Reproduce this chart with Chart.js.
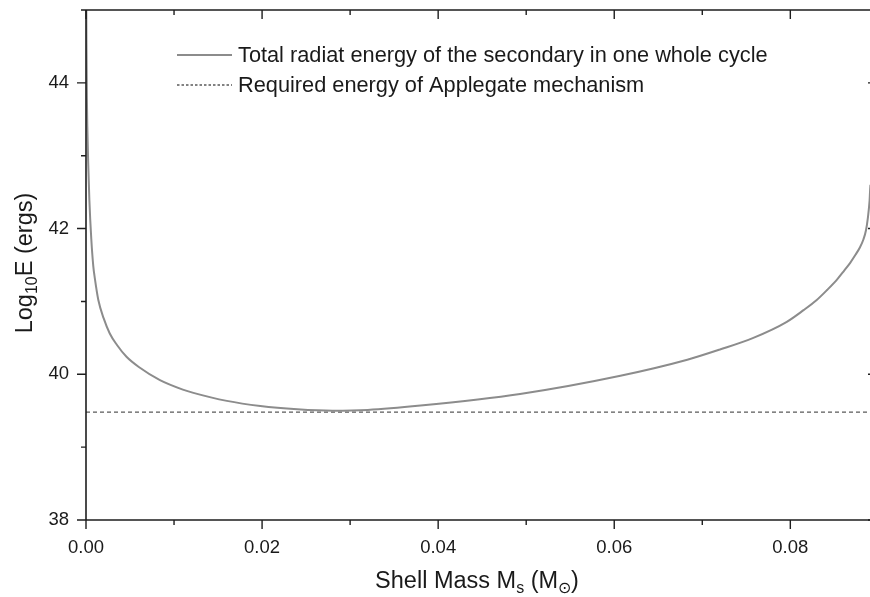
<!DOCTYPE html>
<html>
<head>
<meta charset="utf-8">
<script src="https://cdn.jsdelivr.net/npm/chart.js@4.4.0/dist/chart.umd.min.js"></script>
<style>
html,body{margin:0;padding:0;background:#fff;}
#wrap{width:870px;height:597px;position:relative;}
</style>
</head>
<body>
<div id="wrap"><canvas id="c" width="870" height="597"></canvas></div>
<script>
// ---- data ----
const shellMass = [0.00002, 0.00005, 0.0001, 0.00015, 0.00025, 0.00038, 0.0006, 0.00083, 0.001, 0.0014, 0.002, 0.0027, 0.0035, 0.0046, 0.006, 0.0084, 0.011, 0.0122, 0.016, 0.0198, 0.024, 0.028, 0.032, 0.038, 0.0493, 0.0607, 0.0683, 0.0720, 0.0758, 0.0796, 0.0815, 0.0830, 0.0842, 0.0853, 0.0861, 0.0868, 0.0874, 0.0879, 0.0883, 0.0886, 0.0888, 0.0890, 0.0891];
const logEnergy = [45.6, 44.6, 43.8, 43.4, 42.9, 42.4, 41.86, 41.48, 41.32, 41.02, 40.77, 40.56, 40.405, 40.24, 40.10, 39.92, 39.79, 39.745, 39.635, 39.565, 39.52, 39.50, 39.51, 39.57, 39.73, 39.98, 40.20, 40.34, 40.50, 40.72, 40.88, 41.02, 41.16, 41.30, 41.42, 41.53, 41.64, 41.74, 41.85, 41.98, 42.14, 42.38, 42.6];
const applegateMass = [0, 0.0891];
const applegateEnergy = [39.48, 39.48];
const xMajorTicks = [0, 0.02, 0.04, 0.06, 0.08];
const xMinorTicks = [0.01, 0.03, 0.05, 0.07];
const yMajorTicks = [38, 40, 42, 44];
const yMinorTicks = [39, 41, 43, 45];
const seriesLabels = ['Total radiat energy of the secondary in one whole cycle', 'Required energy of Applegate mechanism'];
const xRange = [0, 0.08905];
const yRange = [38, 45];

const FONT = '"Liberation Sans", Arial, Helvetica, sans-serif';
const AXIS = '#1e1e1e';

const framePlugin = {
  id: 'frame',
  afterDraw(chart) {
    const ctx = chart.ctx, a = chart.chartArea;
    const xs = chart.scales.x, ys = chart.scales.y;
    ctx.save();
    ctx.strokeStyle = AXIS;
    ctx.lineWidth = 1.6;
    ctx.beginPath();
    ctx.moveTo(a.left, a.top); ctx.lineTo(a.right + 2, a.top);
    ctx.moveTo(a.left, a.top); ctx.lineTo(a.left, a.bottom);
    ctx.moveTo(a.left, a.bottom); ctx.lineTo(a.right + 2, a.bottom);
    ctx.stroke();
    ctx.lineWidth = 1.4;
    ctx.beginPath();
    xMajorTicks.forEach(v => { const p = xs.getPixelForValue(v);
      ctx.moveTo(p, a.bottom); ctx.lineTo(p, a.bottom + 9);
      ctx.moveTo(p, a.top); ctx.lineTo(p, a.top + 9); });
    xMinorTicks.forEach(v => { const p = xs.getPixelForValue(v);
      ctx.moveTo(p, a.bottom); ctx.lineTo(p, a.bottom + 5);
      ctx.moveTo(p, a.top); ctx.lineTo(p, a.top + 5); });
    yMajorTicks.forEach(v => { const p = ys.getPixelForValue(v);
      ctx.moveTo(a.left, p); ctx.lineTo(a.left - 9, p);
      ctx.moveTo(a.right, p); ctx.lineTo(a.right - 2, p); });
    yMinorTicks.forEach(v => { const p = ys.getPixelForValue(v);
      ctx.moveTo(a.left, p); ctx.lineTo(a.left - 5, p); });
    ctx.stroke();

    // axis titles with subscripts
    ctx.fillStyle = '#1a1a1a';
    ctx.textBaseline = 'alphabetic';
    const big = '23.5px ' + FONT, small = '16px ' + FONT;
    function runs(parts) {
      let w = 0;
      parts.forEach(p => { ctx.font = p.sub ? small : big; p.w = ctx.measureText(p.t).width; w += p.w; });
      return w;
    }
    function drawRuns(parts, x, y) {
      parts.forEach(p => { ctx.font = p.sub ? small : big; ctx.fillText(p.t, x, y + (p.sub ? 5 : 0)); x += p.w; });
    }
    const xt = [{t:'Shell Mass M'},{t:'s',sub:true},{t:' (M'},{t:'\u2299',sub:true},{t:')'}];
    const wx = runs(xt);
    ctx.textAlign = 'left';
    drawRuns(xt, 477 - wx / 2, 588);
    const yt = [{t:'Log'},{t:'10',sub:true},{t:'E (ergs)'}];
    const wy = runs(yt);
    ctx.save();
    ctx.translate(32, 263);
    ctx.rotate(-Math.PI / 2);
    drawRuns(yt, -wy / 2, 0);
    ctx.restore();

    // legend
    const ds = chart.data.datasets;
    const rows = [55, 85];
    ds.forEach((d, i) => {
      ctx.save();
      ctx.strokeStyle = d.borderColor;
      ctx.lineWidth = i === 0 ? 1.8 : 1.3;
      ctx.setLineDash(i === 0 ? [] : [2.5, 2]);
      ctx.beginPath();
      ctx.moveTo(177, rows[i]); ctx.lineTo(232, rows[i]);
      ctx.stroke();
      ctx.restore();
      ctx.font = '21.75px ' + FONT;
      ctx.fillStyle = '#1a1a1a';
      ctx.textBaseline = 'middle';
      ctx.textAlign = 'left';
      ctx.fillText(d.label, 238, rows[i] + 1);
    });
    ctx.restore();
  }
};

new Chart(document.getElementById('c'), {
  type: 'scatter',
  data: {
    datasets: [
      {
        label: seriesLabels[0],
        data: shellMass.map((x, i) => ({x, y: logEnergy[i]})),
        showLine: true, pointRadius: 0, borderColor: '#8c8c8c', borderWidth: 2,
        cubicInterpolationMode: 'monotone'
      },
      {
        label: seriesLabels[1],
        data: applegateMass.map((x, i) => ({x, y: applegateEnergy[i]})),
        showLine: true, pointRadius: 0, borderColor: '#5a5a5a', borderWidth: 1.4,
        borderDash: [4, 3]
      }
    ]
  },
  options: {
    responsive: false, animation: false, devicePixelRatio: 1,
    layout: { padding: { top: 10, right: 0, left: 0, bottom: 0 } },
    plugins: { legend: { display: false }, tooltip: { enabled: false } },
    scales: {
      x: {
        type: 'linear', min: xRange[0], max: xRange[1],
        grid: { display: false }, border: { display: false },
        afterBuildTicks: s => { s.ticks = xMajorTicks.map(v => ({value: v})); },
        afterFit: s => { s.height = 77; s.paddingLeft = 0; s.paddingRight = 0; s.paddingTop = 0; s.paddingBottom = 0; },
        ticks: { color: '#1a1a1a', padding: 9, maxRotation: 0, font: { family: FONT, size: 18.5 },
                 callback: v => Number(v).toFixed(2) }
      },
      y: {
        type: 'linear', min: yRange[0], max: yRange[1],
        grid: { display: false }, border: { display: false },
        afterBuildTicks: s => { s.ticks = yMajorTicks.map(v => ({value: v})); },
        afterFit: s => { s.width = 86; s.paddingTop = 0; s.paddingBottom = 0; s.paddingLeft = 0; s.paddingRight = 0; },
        ticks: { color: '#1a1a1a', padding: 9, font: { family: FONT, size: 18.5 },
                 callback: v => String(v) }
      }
    }
  },
  plugins: [framePlugin]
});
</script>
</body>
</html>
